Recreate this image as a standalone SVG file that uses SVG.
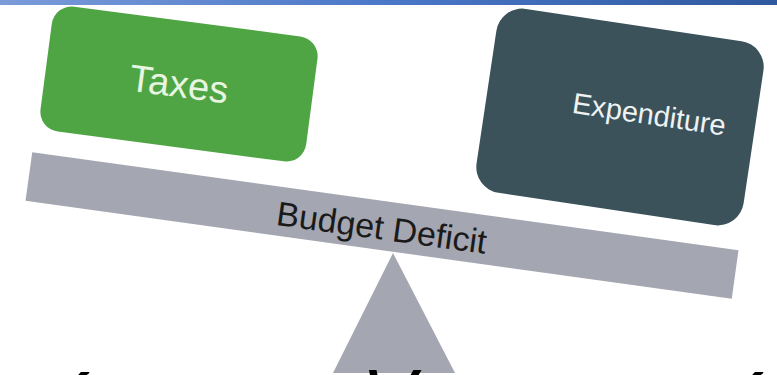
<svg xmlns="http://www.w3.org/2000/svg" width="777" height="375" viewBox="0 0 777 375">
<defs>
<linearGradient id="topbar" x1="0" y1="0" x2="1" y2="0">
<stop offset="0" stop-color="#7b9bd9"/>
<stop offset="0.5" stop-color="#4a77c8"/>
<stop offset="1" stop-color="#2f589f"/>
</linearGradient>
</defs>
<style>
.lbl{font-family:"Liberation Sans",Arial,Helvetica,sans-serif;text-anchor:middle}
.gray{fill:#a4a6b1}
.big{font-family:"Liberation Sans",Arial,sans-serif;font-style:italic;font-size:80px;fill:#000}
</style>
<rect x="0" y="0" width="777" height="5" fill="url(#topbar)"/>
<g id="fulcrum">
<polygon class="gray" points="393,253 333,373 455,373"/>
</g>
<g id="beam" transform="translate(382 225.5) rotate(7.9)">
<rect class="gray" x="-356.5" y="-24.5" width="713" height="49"/>
<text class="lbl" x="0" y="14" font-size="34" fill="#1a1a1a">Budget Deficit</text>
</g>
<g id="taxes" transform="translate(179 84) rotate(7.5)">
<rect x="-134" y="-63" width="268" height="126" rx="20" fill="#4fa544"/>
<text class="lbl" x="0" y="13" font-size="38" fill="#e8f5e0">Taxes</text>
</g>
<g id="expenditure" transform="translate(620 117) rotate(8.5)">
<rect x="-135" y="-93" width="270" height="186" rx="26" fill="#3b525b"/>
<text class="lbl" x="28.5" y="3" font-size="29" fill="#eef2f2">Expenditure</text>
</g>
<g id="connectors"></g>
<text class="big" x="64" y="431">´</text>
<text class="big" x="362" y="425">V</text>
<text class="big" x="738" y="431">´</text>
</svg>
